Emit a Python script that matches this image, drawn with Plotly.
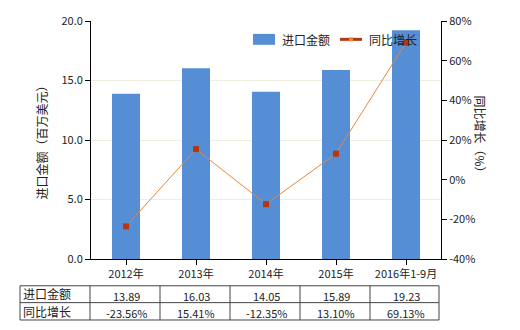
import plotly.graph_objects as go

categories = ["2012年", "2013年", "2014年", "2015年", "2016年1-9月"]
import_values = [13.89, 16.03, 14.05, 15.89, 19.23]
growth_pct = [-23.56, 15.41, -12.35, 13.10, 69.13]
row_labels = ["进口金额", "同比增长"]
series_names = ["进口金额", "同比增长"]
left_ticks = [0, 5, 10, 15, 20]
right_ticks = [-40, -20, 0, 20, 40, 60, 80]

FONT = "Noto Sans CJK SC"
BAR_C = "#558ED5"
LINE_C = "#E8863A"
MARK_C = "#B8360E"
TXT = "#222"

fig = go.Figure()
fig.add_trace(go.Bar(x=categories, y=import_values, name=series_names[0],
                     marker=dict(color=BAR_C, line=dict(width=0)), width=0.4))
fig.add_trace(go.Scatter(x=categories, y=growth_pct, name=series_names[1], yaxis="y2",
                         mode="lines+markers",
                         line=dict(color=LINE_C, width=1),
                         marker=dict(symbol="square", size=6, color=MARK_C)))

fig.update_layout(
    width=520, height=330,
    margin=dict(l=91, r=79, t=19, b=71),
    plot_bgcolor="white", paper_bgcolor="white",
    font=dict(family=FONT, size=11, color=TXT),
    showlegend=False,
    bargap=0.6,
    xaxis=dict(type="category", showline=True, linecolor="black", linewidth=1,
               ticks="outside", ticklen=5, tickcolor="black", showgrid=False,
               range=[-0.5, 4.5], tickfont=dict(size=11)),
    yaxis=dict(range=[0, 20], tickvals=left_ticks,
               ticktext=[f"{v:.1f}" for v in left_ticks],
               showline=True, linecolor="black", linewidth=1, ticks="outside",
               ticklen=5, tickcolor="black", gridcolor="#EEEDE0", zeroline=False),
    yaxis2=dict(range=[-40, 80], tickvals=right_ticks,
                ticktext=[f"{v}%" for v in right_ticks],
                overlaying="y", side="right", showline=True, linecolor="black",
                linewidth=1, ticks="outside", ticklen=5, tickcolor="black",
                showgrid=False, zeroline=False),
)

def px(x):
    return (x - 91) / 350

def py(y):
    return (259 - y) / 240

# axis titles
fig.add_annotation(text="进口金额（百万美元）", xref="paper", yref="paper", x=px(30), y=py(139),
                   textangle=-90, showarrow=False, font=dict(size=12, color=TXT))
fig.add_annotation(text="同比增长（%）", xref="paper", yref="paper", x=px(491), y=py(136),
                   textangle=90, showarrow=False, font=dict(size=12, color=TXT))

# custom legend
fig.add_shape(type="rect", xref="paper", yref="paper", x0=px(253), x1=px(275),
              y0=py(43), y1=py(32), fillcolor=BAR_C, line=dict(width=0))
fig.add_annotation(text=series_names[0], xref="paper", yref="paper", x=px(280), y=py(37.5),
                   xanchor="left", yanchor="middle", showarrow=False,
                   font=dict(size=12, color=TXT))
fig.add_shape(type="line", xref="paper", yref="paper", x0=px(340), x1=px(362),
              y0=py(37.5), y1=py(37.5), line=dict(color="#B03A10", width=3))
fig.add_shape(type="rect", xref="paper", yref="paper", x0=px(349), x1=px(353),
              y0=py(39.5), y1=py(35.5), fillcolor=LINE_C, line=dict(width=0))
fig.add_annotation(text=series_names[1], xref="paper", yref="paper", x=px(367), y=py(37.5),
                   xanchor="left", yanchor="middle", showarrow=False,
                   font=dict(size=12, color=TXT))

# table
y_top, y_mid, y_bot = py(286), py(303), py(320.5)
line = dict(color="#444", width=1)
x_left = px(20)
x_right = px(439)
for yy in (y_top, y_mid, y_bot):
    fig.add_shape(type="line", xref="paper", yref="paper", x0=x_left, x1=x_right,
                  y0=yy, y1=yy, line=line)
fig.add_shape(type="line", xref="paper", yref="paper", x0=x_left, x1=x_left,
              y0=y_top, y1=y_bot, line=line)
for i in range(len(categories) + 1):
    xp = px(90 + 70 * i - (1 if i == len(categories) else 0))
    fig.add_shape(type="line", xref="paper", yref="paper", x0=xp, x1=xp,
                  y0=y_top, y1=y_bot, line=line)

rows = [[f"{v:.2f}" for v in import_values], [f"{v:.2f}%" for v in growth_pct]]
for r, (lab, vals) in enumerate(zip(row_labels, rows)):
    yc = py(294) if r == 0 else py(311.5)
    fig.add_annotation(text=lab, xref="paper", yref="paper", x=px(21), y=yc,
                       xanchor="left", yanchor="middle", showarrow=False,
                       font=dict(size=12, color=TXT))
    for c, v in zip(categories, vals):
        fig.add_annotation(text=v, xref="x", yref="paper", x=c, y=yc - 0.008,
                           xanchor="center", yanchor="middle", showarrow=False,
                           font=dict(size=11, color=TXT))

fig.write_html("out.html")
